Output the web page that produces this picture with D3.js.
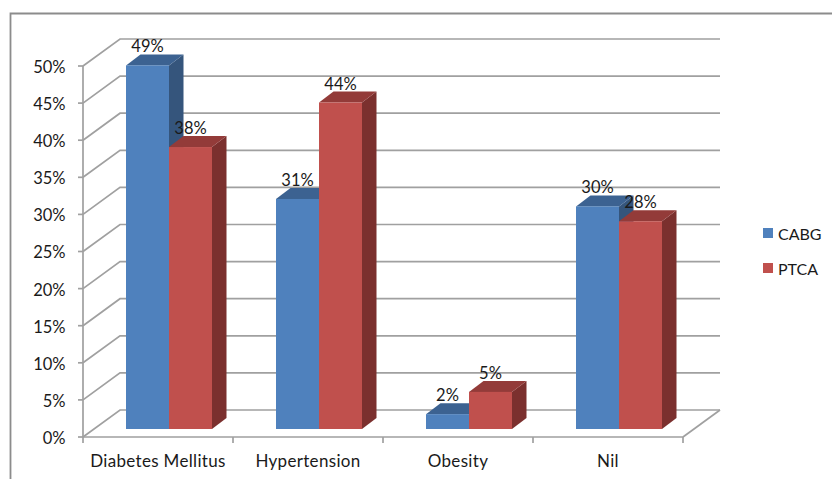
<!DOCTYPE html>
<html>
<head>
<meta charset="utf-8">
<script src="https://cdn.jsdelivr.net/npm/d3@7/dist/d3.min.js"></script>
<style>
  html, body { margin: 0; padding: 0; background: #fff; }
  svg { display: block; }
  text { font-family: Lato, sans-serif; fill: #1a1a1a; }
</style>
</head>
<body>
<svg id="chart" width="832" height="479"></svg>
<script>
const categories = ["Diabetes Mellitus", "Hypertension", "Obesity", "Nil"];
const seriesNames = ["CABG", "PTCA"];
const cabgValues = [49, 31, 2, 30];
const ptcaValues = [38, 44, 5, 28];
const yTicks = [0, 5, 10, 15, 20, 25, 30, 35, 40, 45, 50];

const frontColors = { CABG: "#4f81bd", PTCA: "#c0504d" };
const sideColors = { CABG: "#35557c", PTCA: "#7b302e" };
const topColors = { CABG: "#3c6291", PTCA: "#933b39" };

const gridColor = "#a0a0a0";
const fontSize = 16.5;
const wallDx = 37, wallDy = -27;      // offset of the back wall from the front axis
const barDx = 14.5, barDy = -11;      // depth of each 3D column
const floorDy = -8;                   // columns stand this far behind the front edge

const svg = d3.select("#chart");
const x = d3.scaleBand().domain(categories).range([83, 683]);
const y = d3.scaleLinear().domain([0, 50]).range([437, 66]);
const inner = d3.scaleBand().domain(seriesNames).range([43, 129]);

// Chart frame
svg.append("path")
  .attr("d", "M10.5,479V13.5H832")
  .attr("fill", "none").attr("stroke", "#8c8c8c").attr("stroke-width", 1.8);

// Back wall gridlines with their slanted run to the axis
const grid = svg.append("g").attr("fill", "none").attr("stroke", gridColor).attr("stroke-width", 1.7);
yTicks.forEach(t => {
  const path = d3.path();
  path.moveTo(x.range()[0], y(t));
  path.lineTo(x.range()[0] + wallDx, y(t) + wallDy);
  path.lineTo(x.range()[1] + wallDx, y(t) + wallDy);
  grid.append("path").attr("d", path.toString());
});
// Right edge of the floor
grid.append("path").attr("d", `M${x.range()[1]},${y(0)}L${x.range()[1] + wallDx},${y(0) + wallDy}`);

// Axes
const axisG = svg.append("g").attr("fill", "none").attr("stroke", gridColor).attr("stroke-width", 1.7);
axisG.append("path").attr("d", `M${x.range()[0]},${y(50)}V${y(0)}H${x.range()[1]}`);
yTicks.forEach(t => axisG.append("path").attr("d", `M${x.range()[0] - 5},${y(t)}H${x.range()[0]}`));
[...categories.map(c => x(c)), x.range()[1]].forEach(px =>
  axisG.append("path").attr("d", `M${px},${y(0)}v6`));

svg.append("g").selectAll("text").data(yTicks).join("text")
  .attr("x", 65.5).attr("y", t => y(t)).attr("dy", "0.42em")
  .attr("text-anchor", "end").attr("font-size", fontSize)
  .text(t => t + "%");

svg.append("g").selectAll("text").data(categories).join("text")
  .attr("x", c => x(c) + x.bandwidth() / 2).attr("y", 467)
  .attr("text-anchor", "middle").attr("font-size", 17)
  .attr("letter-spacing", 0.32)
  .text(c => c);

// Columns: PTCA is drawn after CABG so its face covers the blue side
const series = [
  { name: "CABG", values: cabgValues },
  { name: "PTCA", values: ptcaValues }
];
const bars = svg.append("g");
categories.forEach((c, i) => {
  series.forEach(s => {
    const v = s.values[i];
    const x0 = x(c) + inner(s.name);
    const w = inner.bandwidth();
    const base = y(0) + floorDy;
    const top = y(v) + floorDy;
    const g = bars.append("g");
    g.append("path")
      .attr("d", `M${x0 + w},${top}l${barDx},${barDy}V${base + barDy}l${-barDx},${-barDy}Z`)
      .attr("fill", sideColors[s.name]);
    g.append("path")
      .attr("d", `M${x0},${top}l${barDx},${barDy}h${w}l${-barDx},${-barDy}Z`)
      .attr("fill", topColors[s.name]);
    g.append("rect")
      .attr("x", x0).attr("y", top).attr("width", w).attr("height", base - top)
      .attr("fill", frontColors[s.name]);
  });
});

// Value labels sit above the front-top edge of each column
const labels = svg.append("g");
categories.forEach((c, i) => {
  series.forEach(s => {
    const v = s.values[i];
    labels.append("text")
      .attr("x", x(c) + inner(s.name) + inner.bandwidth() / 2)
      .attr("y", y(v) + floorDy - 13)
      .attr("text-anchor", "middle").attr("font-size", fontSize)
      .text(v + "%");
  });
});

// Legend
const legend = svg.append("g");
seriesNames.forEach((n, i) => {
  const ly = 233 + i * 35;
  legend.append("rect").attr("x", 763).attr("y", ly - 5).attr("width", 10).attr("height", 10)
    .attr("fill", frontColors[n]);
  legend.append("text").attr("x", 778).attr("y", ly).attr("dy", "0.42em")
    .attr("font-size", 16).text(n);
});
</script>
</body>
</html>
